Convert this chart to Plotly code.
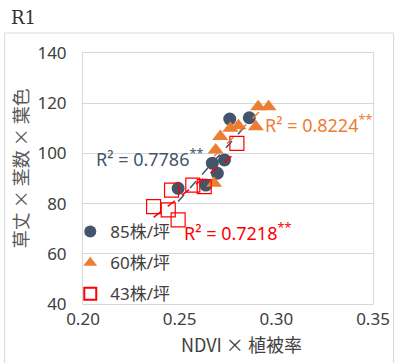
import numpy as np
import plotly.graph_objects as go

# Data
x85 = [0.2759, 0.2860, 0.2669, 0.2732, 0.2695, 0.2635, 0.2492]
y85 = [113.7, 114.2, 96.1, 97.4, 92.1, 87.4, 86.1]

x60 = [0.2906, 0.2960, 0.2894, 0.2762, 0.2804, 0.2710, 0.2686, 0.2678]
y60 = [118.6, 118.6, 110.6, 110.0, 111.0, 106.7, 101.4, 88.1]

x43 = [0.2796, 0.2627, 0.2568, 0.2458, 0.2365, 0.2441, 0.2492]
y43 = [104.0, 86.8, 87.4, 85.4, 78.8, 77.5, 73.5]

names = ["85株/坪", "60株/坪", "43株/坪"]
r2_labels = ["R² = 0.7786<sup>**</sup>", "R² = 0.8224<sup>**</sup>", "R² = 0.7218<sup>**</sup>"]
xticks = [0.20, 0.25, 0.30, 0.35]
yticks = [40, 60, 80, 100, 120, 140]

C85 = "#44546A"
C60 = "#ED7D31"
C43 = "#FF0000"

fig = go.Figure()

def trend(xs, ys, color, lg):
    xs = np.array(xs); ys = np.array(ys)
    m, b = np.polyfit(xs, ys, 1)
    xx = np.array([xs.min(), xs.max()])
    fig.add_trace(go.Scatter(x=xx, y=m * xx + b, mode="lines",
                             line=dict(color=color, width=1.5, dash="dash"),
                             showlegend=False, hoverinfo="skip", legendgroup=lg))

fig.add_trace(go.Scatter(x=x85, y=y85, mode="markers", name=names[0], legendgroup="a",
                         marker=dict(symbol="circle", size=13, color=C85)))
fig.add_trace(go.Scatter(x=x60, y=y60, mode="markers", name=names[1], legendgroup="b",
                         marker=dict(symbol="triangle-up", size=14, color=C60)))
fig.add_trace(go.Scatter(x=x43, y=y43, mode="markers", name=names[2], legendgroup="c",
                         marker=dict(symbol="square-open", size=14, color=C43, line=dict(width=1.2))))

trend(x85, y85, C85, "a")
trend(x60, y60, C60, "b")
trend(x43, y43, C43, "c")

font_main = "Noto Sans, Noto Sans CJK JP, sans-serif"
font_cjk = "Noto Sans CJK JP, Noto Sans, sans-serif"

def px_x(px):
    return (px - 83) / 296

def px_y(py):
    return (304 - py) / 251

fig.update_layout(
    width=402, height=363,
    margin=dict(l=83, r=23, t=53, b=59),
    paper_bgcolor="white", plot_bgcolor="white",
    font=dict(family=font_main, size=17, color="#404040"),
    showlegend=True,
    legend=dict(x=px_x(70), y=px_y(312), xanchor="left", yanchor="bottom",
                bgcolor="rgba(0,0,0,0)", font=dict(size=17, color="#404040", family=font_main),
                tracegroupgap=6, itemsizing="constant", itemwidth=30),
    xaxis=dict(range=[0.20, 0.35], tickvals=xticks, tickformat=".2f",
               showgrid=False, zeroline=False, showline=True, mirror=True,
               linecolor="#D9D9D9", linewidth=1, ticks="",
               tickfont=dict(size=17, color="#404040")),
    yaxis=dict(range=[40, 140], tickvals=yticks, showgrid=True, gridcolor="#D9D9D9",
               zeroline=False, showline=True, mirror=True, linecolor="#D9D9D9", linewidth=1,
               ticks="", ticklabelstandoff=12,
               tickfont=dict(size=17, color="#404040")),
    annotations=[
        dict(text="R1", xref="paper", yref="paper", x=px_x(7), y=px_y(18), xanchor="left", yanchor="middle",
             showarrow=False, font=dict(family="DejaVu Serif, Liberation Serif, serif", size=18, color="#333333")),
        dict(text="NDVI × 植被率", xref="paper", yref="paper", x=px_x(245), y=px_y(344),
             xanchor="center", yanchor="middle", showarrow=False,
             font=dict(size=18, color="#404040", family=font_cjk)),
        dict(text="草丈 × 茎数 × 葉色", xref="paper", yref="paper", x=px_x(19), y=px_y(168),
             xanchor="center", yanchor="middle", showarrow=False, textangle=-90,
             font=dict(size=18, color="#595959", family=font_cjk)),
        dict(text=r2_labels[0], xref="paper", yref="paper", x=px_x(94), y=px_y(158),
             xanchor="left", yanchor="middle", showarrow=False, font=dict(size=18, color=C85)),
        dict(text=r2_labels[1], xref="paper", yref="paper", x=px_x(267), y=px_y(124),
             xanchor="left", yanchor="middle", showarrow=False, font=dict(size=18, color=C60)),
        dict(text=r2_labels[2], xref="paper", yref="paper", x=px_x(184), y=px_y(232),
             xanchor="left", yanchor="middle", showarrow=False, font=dict(size=18, color=C43)),
    ],
    shapes=[
        dict(type="rect", xref="paper", yref="paper",
             x0=px_x(3), x1=px_x(400), y0=px_y(372), y1=px_y(33),
             line=dict(color="#D9D9D9", width=1), fillcolor="rgba(0,0,0,0)", layer="below"),
    ],
)

fig.write_html("out.html")
